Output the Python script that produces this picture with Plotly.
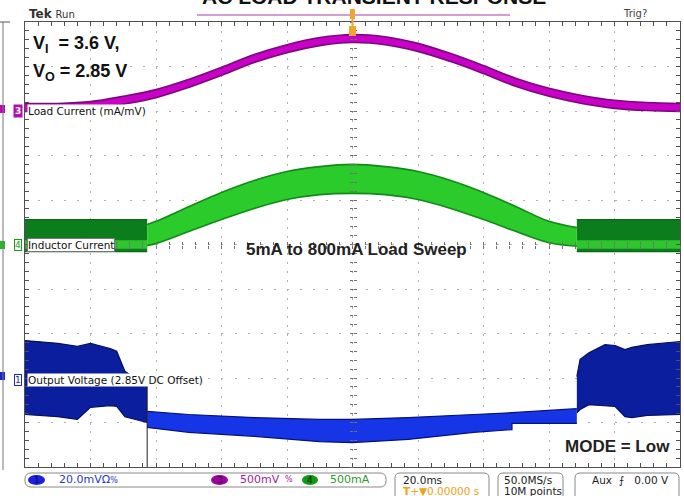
import plotly.graph_objects as go

# ---------------- data (time in ms, 20 ms/div; amplitude in screen divisions) ----------------
# Ch3 - Load current
LOAD_T = [-100, -90, -80, -70, -60, -50, -40, -30, -20, -10, 0, 10, 20, 30, 40, 50, 60, 70, 80, 90, 100]
LOAD_HI = [3.17, 3.17, 3.21, 3.33, 3.48, 3.71, 3.98, 4.27, 4.49, 4.65, 4.72, 4.67, 4.52, 4.29, 4.02, 3.73, 3.51, 3.35, 3.24, 3.19, 3.17]
LOAD_LO = [2.99, 2.99, 3.03, 3.15, 3.30, 3.53, 3.80, 4.09, 4.31, 4.47, 4.54, 4.49, 4.34, 4.11, 3.84, 3.55, 3.33, 3.17, 3.06, 3.01, 2.99]

# Ch4 - Inductor current
IND_BLOCK_L_T = [-100, -62.7]
IND_BLOCK_R_T = [68.5, 100]
IND_BLOCK_HI = [0.56, 0.56]
IND_BLOCK_LO = [-0.16, -0.16]
IND_STRIPE_HI = [0.09, 0.09]
IND_STRIPE_LO = [-0.09, -0.09]
IND_T = [-62.7, -60, -50, -40, -30, -20, -10, 0, 10, 20, 30, 40, 50, 60, 68.5]
IND_HI = [0.45, 0.52, 0.85, 1.17, 1.44, 1.64, 1.75, 1.80, 1.75, 1.64, 1.44, 1.17, 0.85, 0.52, 0.38]
IND_LO = [-0.02, 0.02, 0.29, 0.56, 0.81, 1.01, 1.12, 1.15, 1.12, 1.01, 0.81, 0.56, 0.29, 0.04, -0.04]

# Ch1 - Output voltage
OUT_L_T = [-100, -90, -84, -82, -80, -74, -72, -69.5, -66, -62.7]
OUT_L_HI = [-2.16, -2.22, -2.29, -2.25, -2.22, -2.34, -2.40, -2.85, -3.03, -3.15]
OUT_L_LO = [-3.82, -3.87, -3.93, -3.80, -3.66, -3.62, -3.64, -3.87, -3.93, -4.00]
OUT_M_T_HI = [-62.7, -50, -30, -10, 0, 17, 37, 48.7, 68.5]
OUT_M_HI = [-3.75, -3.82, -3.89, -3.93, -3.93, -3.89, -3.82, -3.78, -3.69]
OUT_M_T_LO = [-62.7, -50, -30, -10, 0, 17, 37, 48.7, 48.7, 68.5]
OUT_M_LO = [-4.11, -4.22, -4.31, -4.43, -4.45, -4.38, -4.22, -4.16, -4.02, -4.02]
OUT_R_T = [68.5, 69.5, 72.2, 77.1, 80.2, 83.2, 85.3, 90, 100]
OUT_R_HI = [-2.97, -2.58, -2.43, -2.25, -2.27, -2.36, -2.31, -2.25, -2.18]
OUT_R_LO = [-3.78, -3.71, -3.60, -3.62, -3.64, -3.87, -3.89, -3.84, -3.82]
SPIKE_T = [-62.7, -62.7]
SPIKE_V = [-2.9, -5.0]

# ---------------- figure ----------------
W, H = 684, 496
L, R, T, B = 25, 4, 22, 29
PW, PH = W - L - R, H - T - B


def PX(x):
    return (x - L) / PW


def PY(y):
    return (H - B - y) / PH


fig = go.Figure()


def band(t_hi, hi, t_lo, lo, fill, edge, shape="linear", width=1.2):
    fig.add_trace(go.Scatter(x=t_lo, y=lo, mode="lines",
                             line=dict(color=edge, width=width, shape=shape),
                             hoverinfo="skip", showlegend=False))
    fig.add_trace(go.Scatter(x=t_hi, y=hi, mode="lines", fill="tonexty", fillcolor=fill,
                             line=dict(color=edge, width=width, shape=shape),
                             hoverinfo="skip", showlegend=False))


# Load current (magenta)
band(LOAD_T, LOAD_HI, LOAD_T, LOAD_LO, "#c800c8", "#7a0a7a", shape="spline", width=1.6)

# Inductor current (green)
band(IND_BLOCK_L_T, IND_BLOCK_HI, IND_BLOCK_L_T, IND_BLOCK_LO, "#0c7d1c", "#0a6a16")
band(IND_BLOCK_L_T, IND_STRIPE_HI, IND_BLOCK_L_T, IND_STRIPE_LO, "#2fc52f", "#2fc52f", width=0.5)
band(IND_BLOCK_R_T, IND_BLOCK_HI, IND_BLOCK_R_T, IND_BLOCK_LO, "#0c7d1c", "#0a6a16")
band(IND_BLOCK_R_T, IND_STRIPE_HI, IND_BLOCK_R_T, IND_STRIPE_LO, "#2fc52f", "#2fc52f", width=0.5)
band(IND_T, IND_HI, IND_T, IND_LO, "#2ccb2c", "#128a16", shape="spline", width=1.6)

# Output voltage (blue)
band(OUT_L_T, OUT_L_HI, OUT_L_T, OUT_L_LO, "#0b1f9e", "#050f60")
band(OUT_M_T_HI, OUT_M_HI, OUT_M_T_LO, OUT_M_LO, "#1535e6", "#06127a")
band(OUT_R_T, OUT_R_HI, OUT_R_T, OUT_R_LO, "#0b1f9e", "#050f60")
fig.add_trace(go.Scatter(x=SPIKE_T, y=SPIKE_V, mode="lines", line=dict(color="#202020", width=1),
                         hoverinfo="skip", showlegend=False))

# dummy traces so crosshair axes are drawn
for xa, ya in [("x2", "y"), ("x3", "y"), ("x", "y2"), ("x", "y3")]:
    fig.add_trace(go.Scatter(x=[None], y=[None], xaxis=xa, yaxis=ya, showlegend=False, hoverinfo="skip"))

GRID = "#b0b0b0"
BORDER = "#505050"
xcommon = dict(range=[-100, 100], showticklabels=False, zeroline=False, fixedrange=True)
ycommon = dict(range=[-5, 5], showticklabels=False, zeroline=False, fixedrange=True)

fig.update_layout(
    width=W, height=H,
    margin=dict(l=L, r=R, t=T, b=B),
    paper_bgcolor="white", plot_bgcolor="white",
    showlegend=False,
    xaxis=dict(**xcommon, tick0=-100, dtick=20, showgrid=True, gridcolor=GRID, gridwidth=1,
               griddash="2px,6.9px", showline=True, mirror="ticks", linecolor=BORDER, linewidth=1,
               ticks="inside", ticklen=4, tickcolor=BORDER,
               minor=dict(tick0=-100, dtick=4, ticks="inside", ticklen=4, tickcolor=BORDER, showgrid=False)),
    yaxis=dict(**ycommon, tick0=-5, dtick=1, showgrid=True, gridcolor=GRID, gridwidth=1,
               griddash="2px,11.1px", showline=True, mirror="ticks", linecolor=BORDER, linewidth=1,
               ticks="inside", ticklen=4, tickcolor=BORDER,
               minor=dict(tick0=-5, dtick=0.2, ticks="inside", ticklen=4, tickcolor=BORDER, showgrid=False)),
    xaxis2=dict(**xcommon, overlaying="x", anchor="free", position=0.5, showgrid=False, showline=False,
                tick0=-100, dtick=4, ticks="inside", ticklen=3, tickcolor="#707070"),
    xaxis3=dict(**xcommon, overlaying="x", anchor="free", position=0.5, showgrid=False, showline=False,
                tick0=-100, dtick=4, ticks="outside", ticklen=3, tickcolor="#707070"),
    yaxis2=dict(**ycommon, overlaying="y", anchor="free", position=0.5, showgrid=False, showline=False,
                tick0=-5, dtick=0.2, ticks="inside", ticklen=3, tickcolor="#707070"),
    yaxis3=dict(**ycommon, overlaying="y", anchor="free", position=0.5, showgrid=False, showline=False,
                tick0=-5, dtick=0.2, ticks="outside", ticklen=3, tickcolor="#707070"),
)

ann = []


def text(x, y, s, size=11, color="#111", family="DejaVu Sans", xanchor="left", yanchor="middle", **kw):
    ann.append(dict(x=PX(x), y=PY(y), xref="paper", yref="paper", text=s, showarrow=False,
                    xanchor=xanchor, yanchor=yanchor, font=dict(size=size, color=color, family=family), **kw))


ARIAL = "Liberation Sans, Arial, sans-serif"

# title (clipped at top)
text(374, -3.5, "<b>AC LOAD TRANSIENT RESPONSE</b>", size=21, family=ARIAL, xanchor="center")
text(27, 14, "<b>Tek</b> <span style='font-size:10px'>Run</span>", size=12, color="#333")
text(621, 14, "Trig?", size=10, color="#444")

# overlay annotations
text(31, 45, "<b>V<sub>I</sub>  = 3.6 V,</b>", size=18, family=ARIAL)
text(31, 72, "<b>V<sub>O</sub> = 2.85 V</b>", size=18, family=ARIAL)
text(356, 249, "<b>5mA to 800mA Load Sweep</b>", size=17, family=ARIAL, xanchor="center", color="#222")
text(672, 446, "<b>MODE = Low</b>", size=17, family=ARIAL, xanchor="right", color="#222")

# channel labels
text(27, 111, "Load Current (mA/mV)", size=10.5, bgcolor="white", borderpad=0)
text(27, 245, "Inductor Current", size=10.5, bgcolor="white", bordercolor="#777", borderwidth=1, borderpad=0)
text(27, 380, "Output Voltage (2.85V DC Offset)", size=10.5, bgcolor="white", borderpad=0)

# channel markers on the left
text(17.5, 111, "<b>3</b>", size=9, color="white", xanchor="center", bgcolor="#b010b0", borderpad=1)
text(17.5, 245, "4", size=9, color="#10a010", xanchor="center", bgcolor="white", bordercolor="#10a010",
     borderwidth=1, borderpad=0)
text(17.5, 380, "1", size=9, color="#1a2ad0", xanchor="center", bgcolor="white", bordercolor="#1a2ad0",
     borderwidth=1, borderpad=0)

# status bar
text(57, 480, "20.0mVΩ<span style='font-size:8px'>%</span>", size=11, color="#2a38c8")
text(238, 480, "500mV", size=11, color="#a020a0")
text(283, 480, "%", size=8, color="#a020a0")
text(328, 480, "500mA", size=11, color="#2a9a2a")
text(401, 479.5, "20.0ms", size=10.5, color="#222")
text(401, 490.5, "<b>T</b>+▼0.00000 s", size=10.5, color="#f0a020")
text(502, 479.5, "50.0MS/s", size=10.5, color="#222")
text(502, 490.5, "10M points", size=10.5, color="#222")
text(590, 479.5, "Aux  ⨍   0.00 V", size=10.5, color="#222")
text(36.5, 480, "1", size=9, color="#0a0a60", xanchor="center")
text(219.5, 480, "3", size=9, color="#3a003a", xanchor="center")
text(310, 480, "4", size=9, color="#053005", xanchor="center")

fig.update_layout(annotations=ann)

shapes = []


def rrect(x0, y0, x1, y1, r, color="#888", fill=None):
    X0, X1 = PX(x0), PX(x1)
    Y0, Y1 = PY(y0), PY(y1)
    rx, ry = r / PW, r / PH
    path = (f"M {X0+rx},{Y0} L {X1-rx},{Y0} Q {X1},{Y0} {X1},{Y0-ry} L {X1},{Y1+ry} Q {X1},{Y1} {X1-rx},{Y1} "
            f"L {X0+rx},{Y1} Q {X0},{Y1} {X0},{Y1+ry} L {X0},{Y0-ry} Q {X0},{Y0} {X0+rx},{Y0} Z")
    shapes.append(dict(type="path", xref="paper", yref="paper", path=path,
                       line=dict(color=color, width=1), fillcolor=fill or "rgba(0,0,0,0)"))


def rect(x0, y0, x1, y1, fill, line=None):
    shapes.append(dict(type="rect", xref="paper", yref="paper", x0=PX(x0), x1=PX(x1), y0=PY(y0), y1=PY(y1),
                       fillcolor=fill, line=dict(color=line or fill, width=1 if line else 0)))


def ellipse(x0, y0, x1, y1, fill):
    shapes.append(dict(type="circle", xref="paper", yref="paper", x0=PX(x0), x1=PX(x1), y0=PY(y0), y1=PY(y1),
                       fillcolor=fill, line=dict(color=fill, width=0)))


def line(x0, y0, x1, y1, color, width=1):
    shapes.append(dict(type="line", xref="paper", yref="paper", x0=PX(x0), x1=PX(x1), y0=PY(y0), y1=PY(y1),
                       line=dict(color=color, width=width)))


rrect(25, 473, 386, 487, 6)
rrect(395, 473, 489, 500, 5)
rrect(498, 473, 563, 500, 5)
rrect(575, 473, 679, 500, 5)
ellipse(28, 475, 45, 485, "#1a22e0")
ellipse(211, 475, 228, 485, "#a000a0")
ellipse(302, 475, 318, 485, "#119911")

# record bar and trigger marker
line(197, 15, 510, 15, "#c47cc4", 1.5)
rect(350, 9, 355, 19, "#f0a530")
rect(349, 26, 356, 36, "#f0a530")
line(352.5, 19, 352.5, 26, "#f0a530", 2)

# left channel arrows
rect(0, 105, 5, 113, "#c000c0")
rect(0, 241, 5, 249, "#22bb22")
rect(0, 372, 5, 380, "#1a22d0")

# adjacent panel edge on the far left
line(3, 22, 3, 470, "#777", 1)
line(0, 22, 10, 22, "#555", 1)

fig.update_layout(shapes=shapes)

fig.write_html("out.html", config={"displayModeBar": False},
               post_script="document.body.style.margin='0';")
